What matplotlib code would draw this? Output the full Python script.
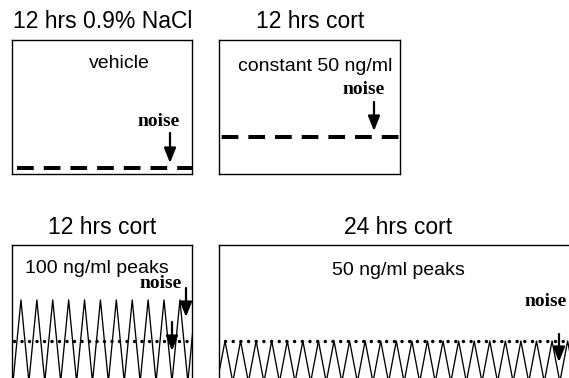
import matplotlib
matplotlib.use("Agg")
import matplotlib.pyplot as plt

# ---------------- data ----------------
panel_titles = ["12 hrs 0.9% NaCl", "12 hrs cort", "12 hrs cort", "24 hrs cort"]
panel_labels = ["vehicle", "constant 50 ng/ml", "100 ng/ml peaks", "50 ng/ml peaks"]
noise_label = "noise"

# vehicle (saline) infusion: flat baseline (ng/ml) over 12 h
vehicle_t = [0, 12]
vehicle_v = [0, 0]

# constant corticosterone infusion, 50 ng/ml over 12 h
constant_t = [0, 12]
constant_v = [50, 50]

# 12 h of hourly pulses peaking at 100 ng/ml
pulse100_t = [0, 0.5, 1, 1.5, 2, 2.5, 3, 3.5, 4, 4.5, 5, 5.5, 6, 6.5, 7, 7.5,
              8, 8.5, 9, 9.5, 10, 10.5, 11, 11.5, 12]
pulse100_v = [0, 100, 0, 100, 0, 100, 0, 100, 0, 100, 0, 100, 0, 100, 0, 100,
              0, 100, 0, 100, 0, 100, 0, 100, 0]
mean100_t = [-1, 13]
mean100_v = [50, 50]

# 24 h of hourly pulses peaking at 50 ng/ml
pulse50_t = [0, 0.5, 1, 1.5, 2, 2.5, 3, 3.5, 4, 4.5, 5, 5.5, 6, 6.5, 7, 7.5,
             8, 8.5, 9, 9.5, 10, 10.5, 11, 11.5, 12, 12.5, 13, 13.5, 14, 14.5,
             15, 15.5, 16, 16.5, 17, 17.5, 18, 18.5, 19, 19.5, 20, 20.5, 21,
             21.5, 22, 22.5, 23, 23.5, 24]
pulse50_v = [0, 50, 0, 50, 0, 50, 0, 50, 0, 50, 0, 50, 0, 50, 0, 50,
             0, 50, 0, 50, 0, 50, 0, 50, 0, 50, 0, 50, 0, 50,
             0, 50, 0, 50, 0, 50, 0, 50, 0, 50, 0, 50, 0,
             50, 0, 50, 0, 50, 0]
mean50_t = [-1, 25]
mean50_v = [50, 50]

# ---------------- layout helpers ----------------
W, H = 569, 378
fig = plt.figure(figsize=(W / 100, H / 100), dpi=100)
fig.patch.set_facecolor("white")


def fx(px):
    return px / W


def fy(py):
    return 1 - py / H


def add_box(left, top, right, bottom):
    ax = fig.add_axes([fx(left), fy(bottom), fx(right) - fx(left), (bottom - top) / H])
    ax.set_xticks([])
    ax.set_yticks([])
    for s in ax.spines.values():
        s.set_linewidth(1.0)
        s.set_color("black")
    ax.set_facecolor("none")
    return ax


SANS = ["Liberation Sans", "DejaVu Sans"]
SERIF = ["Liberation Serif", "DejaVu Serif"]

dash_kw = dict(color="black", lw=2.88, solid_capstyle="butt", dash_capstyle="butt")
dot_kw = dict(color="black", lw=2.5, dash_capstyle="round")
zig_kw = dict(color="black", lw=0.95)

# ---------------- panel 1: vehicle ----------------
ax1 = add_box(12, 40, 192, 174)
ax1.set_xlim(0, 12)
ax1.set_ylim(-10.5, 206)
ax1.plot(vehicle_t, vehicle_v, linestyle=(5.4, (4.17, 2.5)), clip_on=False, **dash_kw)

# ---------------- panel 2: constant ----------------
ax2 = add_box(219, 40, 400, 174)
ax2.set_xlim(0, 12)
ax2.set_ylim(-10.5, 206)
ax2.plot(constant_t, constant_v, linestyle=(6.0, (4.17, 2.5)), clip_on=False, **dash_kw)

# ---------------- panel 3: 100 ng/ml peaks ----------------
ax3 = add_box(12, 245, 192, 382)
ax3.set_xlim(-0.063, 11.26)
ax3.set_ylim(0, 167)
ax3.plot(pulse100_t, pulse100_v, **zig_kw)
ax3.plot(mean100_t, mean100_v, linestyle=(0, (0.01, 2.15)), **dot_kw)

# ---------------- panel 4: 50 ng/ml peaks ----------------
ax4 = add_box(219, 245, 591, 382)
ax4.set_xlim(0.115, 24)
ax4.set_ylim(0, 167)
ax4.plot(pulse50_t, pulse50_v, **zig_kw)
ax4.plot(mean50_t, mean50_v, linestyle=(0, (0.01, 2.2)), **dot_kw)

# ---------------- text ----------------
title_pos = [(103, 28), (310, 28), (102, 234), (398, 234)]
for (x, y), t in zip(title_pos, panel_titles):
    fig.text(fx(x), fy(y), t, ha="center", va="baseline", fontsize=16.5, family=SANS)

label_pos = [(119, 68), (315, 71), (97, 273), (398, 275)]
for (x, y), t in zip(label_pos, panel_labels):
    fig.text(fx(x), fy(y), t, ha="center", va="baseline", fontsize=14, family=SANS)

noise_pos = [(159, 126), (364, 94), (161, 288), (546, 306)]
for x, y in noise_pos:
    fig.text(fx(x), fy(y), noise_label, ha="center", va="baseline", fontsize=14,
             family=SERIF, fontweight="bold")

# arrows (x, tail_y, tip_y) in pixels
arrows = [(170, 133, 163), (374, 102, 131), (186, 288, 317), (172, 322, 351), (559, 334, 362)]
for x, y0, y1 in arrows:
    fig.add_artist(matplotlib.patches.FancyArrowPatch(
        (fx(x), fy(y0)), (fx(x), fy(y1)), transform=fig.transFigure,
        arrowstyle="-|>,head_length=0.45,head_width=0.18", mutation_scale=20,
        lw=1.6, color="black", shrinkA=0, shrinkB=0))

fig.savefig("out.png", dpi=100, facecolor="white")
